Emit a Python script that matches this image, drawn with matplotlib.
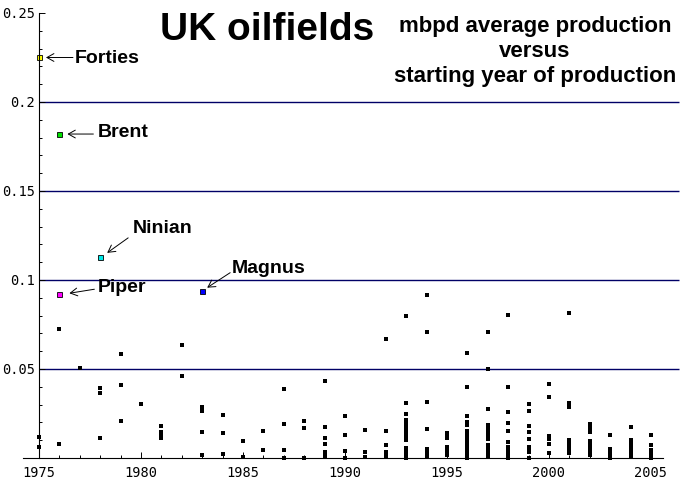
import numpy as np
import matplotlib
matplotlib.use('Agg')
import matplotlib.pyplot as plt


# start year of each group of fields, and average production (mbpd) of the fields
start_years = [1975, 1976, 1977, 1978, 1979, 1980, 1981, 1982, 1983, 1984,
               1985, 1986, 1987, 1988, 1989, 1990, 1991, 1992, 1993, 1994,
               1995, 1996, 1997, 1998, 1999, 2000, 2001, 2002, 2003, 2004, 2005]
production = [
    [0.012, 0.0064],
    [0.0723, 0.0077],
    [0.0508],
    [0.0393, 0.0367, 0.0112],
    [0.0584, 0.041, 0.0208],
    [0.0305],
    [0.018, 0.0145, 0.013, 0.0115],
    [0.0633, 0.0461],
    [0.0288, 0.0262, 0.0144, 0.0019],
    [0.0242, 0.0139, 0.002],
    [0.0096, 0.0004],
    [0.0152, 0.0045],
    [0.0389, 0.0191, 0.0045, 0.0],
    [0.0208, 0.0167, 0.0002],
    [0.0435, 0.0172, 0.011, 0.0079, 0.0032, 0.0015, 0.0003],
    [0.0236, 0.0127, 0.0039, 0.0002],
    [0.0156, 0.0032, 0.0004],
    [0.0667, 0.0152, 0.0071, 0.0035, 0.0022, 0.001],
    [0.0796, 0.0307, 0.0247, 0.0213, 0.019, 0.0176, 0.0152, 0.0135, 0.0118,
     0.0101, 0.0058, 0.004, 0.0025, 0.001, 0.0],
    [0.0916, 0.0707, 0.0316, 0.0161, 0.0049, 0.0035, 0.002, 0.0005],
    [0.0142, 0.013, 0.0115, 0.0064, 0.0045, 0.003, 0.0015],
    [0.0588, 0.0401, 0.0236, 0.0204, 0.0185, 0.0153, 0.014, 0.0125, 0.011,
     0.0095, 0.0082, 0.007, 0.006, 0.0045, 0.003, 0.0015, 0.0],
    [0.0707, 0.05, 0.0274, 0.0185, 0.017, 0.0155, 0.014, 0.0125, 0.0105,
     0.0073, 0.005, 0.0035, 0.002, 0.0005],
    [0.0806, 0.0401, 0.0257, 0.0195, 0.0152, 0.0092, 0.006, 0.0045, 0.003,
     0.0015, 0.0],
    [0.0302, 0.0262, 0.018, 0.0144, 0.0105, 0.0062, 0.0045, 0.0034, 0.0],
    [0.0416, 0.0345, 0.0124, 0.0107, 0.0079, 0.0026],
    [0.0813, 0.0307, 0.0295, 0.0285, 0.0101, 0.0085, 0.007, 0.0055, 0.004,
     0.0026],
    [0.0191, 0.0175, 0.016, 0.0144, 0.0096, 0.008, 0.0065, 0.005, 0.0035,
     0.0015],
    [0.0129, 0.005, 0.0035, 0.002, 0.0],
    [0.0172, 0.0101, 0.0085, 0.007, 0.0055, 0.004, 0.0025, 0.001],
    [0.0129, 0.0073, 0.0045, 0.003, 0.0015, 0.0],
]

big_names = ['Forties', 'Brent', 'Ninian', 'Piper', 'Magnus']
big_years = [1975, 1976, 1978, 1976, 1983]
big_values = [0.225, 0.182, 0.113, 0.092, 0.094]
big_colors = ['#ffff00', '#00e000', '#00e8e8', '#ff00ff', '#0000ff']

grid_levels = [0.05, 0.1, 0.15, 0.2]
y_ticks = [0.05, 0.1, 0.15, 0.2, 0.25]
y_labels = ['0.05', '0.1', '0.15', '0.2', '0.25']
x_ticks = [1975, 1980, 1985, 1990, 1995, 2000, 2005]
x_labels = ['1975', '1980', '1985', '1990', '1995', '2000', '2005']

# arrow head, arrow tail and text offsets (pixels from the point)
label_offsets = {
    'Forties': ((7, 0), (34, 0), (36, -5.5)),
    'Brent': ((8, 0), (34, 0), (38, -3)),
    'Ninian': ((7, 4), (28, 19), (33, 24)),
    'Piper': ((10, 1), (35, 5), (38, 2.5)),
    'Magnus': ((5, 3), (28, 18), (30, 17.5)),
}

fig = plt.figure(figsize=(6.82, 4.86), dpi=100)
ax = fig.add_axes([0, 0, 1, 1])
ax.set_xlim(1973.09, 2006.52)
ax.set_ylim(-0.01573, 0.2573)

ax.hlines(grid_levels, 1975, 2006.37, color='#000066', lw=1.0, zorder=1)

xs = []
ys = []
for yr, vals in zip(start_years, production):
    for v in vals:
        xs.append(yr)
        ys.append(v)
ax.plot(xs, ys, 's', color='black', ms=3.0, mew=0, zorder=3)

for yr, v, c in zip(big_years, big_values, big_colors):
    ax.plot(yr, v, 's', color=c, mec='black', mew=0.6, ms=3.6, zorder=4)

# axes drawn Mathematica style, crossing at (1975, 0)
for side in ['top', 'right']:
    ax.spines[side].set_visible(False)
ax.spines['left'].set_position(('data', 1975))
ax.spines['left'].set_bounds(0, 0.25)
ax.spines['bottom'].set_position(('data', 0))
ax.spines['bottom'].set_bounds(1974.2, 2005.6)
for side in ['left', 'bottom']:
    ax.spines[side].set_linewidth(0.8)
    ax.spines[side].set_zorder(5)

ax.set_yticks(y_ticks)
ax.set_yticklabels(y_labels)
ax.set_yticks(np.arange(0.01, 0.25, 0.01), minor=True)
ax.set_xticks(x_ticks)
ax.set_xticklabels(x_labels)
ax.set_xticks(np.arange(1976, 2006, 1), minor=True)
ax.tick_params(which='major', direction='in', length=4, width=0.7, pad=3,
               labelsize=9.8)
ax.tick_params(which='minor', direction='in', length=2.5, width=0.7)
ax.tick_params(axis='x', which='major', pad=6)
for lab in ax.get_xticklabels() + ax.get_yticklabels():
    lab.set_family('DejaVu Sans Mono')

fig.canvas.draw()
for name, yr, v in zip(big_names, big_years, big_values):
    px, py = ax.transData.transform((yr, v))
    head, tail, txt = label_offsets[name]
    ax.annotate('', xy=(px + head[0], py + head[1]), xycoords='figure pixels',
                xytext=(px + tail[0], py + tail[1]), textcoords='figure pixels',
                arrowprops=dict(arrowstyle='->,head_length=5,head_width=2.8',
                                mutation_scale=1, lw=0.7, color='black',
                                shrinkA=0, shrinkB=0))
    ax.annotate(name, xy=(px + txt[0], py + txt[1]), xycoords='figure pixels',
                ha='left', va='baseline', fontsize=14, fontweight='bold',
                family='Liberation Sans')

fig.text(160 / 682, 1 - 40 / 486, 'UK oilfields', fontsize=28,
         fontweight='bold', family='Liberation Sans', va='baseline')
subtitle = ['mbpd average production', 'versus', 'starting year of production']
for i, line in enumerate(subtitle):
    fig.text(535 / 682, 1 - (32 + 25 * i) / 486, line, fontsize=16,
             fontweight='bold', family='Liberation Sans', ha='center',
             va='baseline')

fig.savefig('out.png', dpi=100)
